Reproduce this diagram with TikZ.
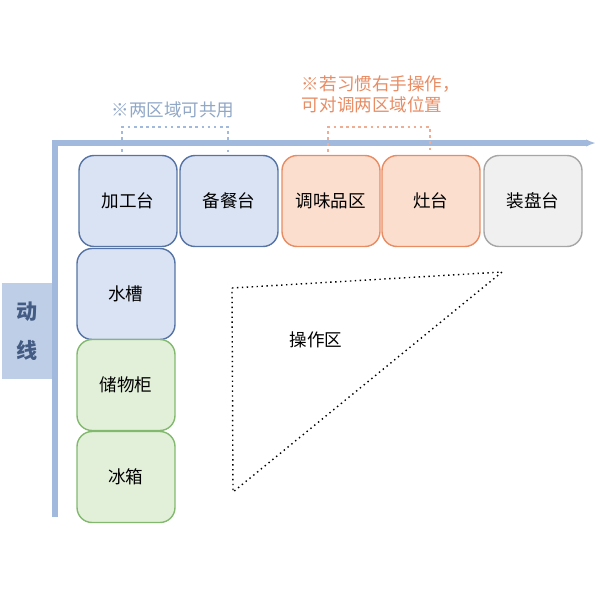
\documentclass[tikz,border=0pt]{standalone}
\usepackage{fontspec}
\newfontfamily\cjk{Noto Sans CJK SC}
\usetikzlibrary{positioning,arrows.meta}
\definecolor{bluefill}{RGB}{218,227,243}
\definecolor{blueline}{RGB}{85,115,165}
\definecolor{orangefill}{RGB}{251,222,206}
\definecolor{orangeline}{RGB}{232,140,100}
\definecolor{greenfill}{RGB}{226,240,217}
\definecolor{greenline}{RGB}{130,185,110}
\definecolor{grayfill}{RGB}{240,240,240}
\definecolor{flow}{RGB}{160,185,220}
\tikzset{
  bl/.style={rectangle, rounded corners=3mm, minimum width=1.96cm, minimum height=1.82cm, text centered, draw=blueline, fill=bluefill, thick, font=\cjk\normalsize},
  og/.style={bl, draw=orangeline, fill=orangefill},
  gn/.style={bl, draw=greenline, fill=greenfill},
  gy/.style={bl, draw=gray!70, fill=grayfill},
  note/.style={font=\cjk\normalsize}
}
\begin{document}
\begin{tikzpicture}[x=0.02cm,y=-0.02cm]
	\useasboundingbox (0,0) rectangle (600,600);
	% flow lines
	\draw[flow, line width=3pt, -{Latex[length=2mm]}] (55,517) -- (55,143) -- (596,143);
	\node[fill=flow!70, minimum width=1cm, minimum height=1.94cm, font=\cjk\large\bfseries, text=blueline!80!black, align=center] (flowlabel) at (27,331) {动\\[3mm]线};
	% top row
	\node[bl] (prep) at (128,201) {加工台};
	\node[bl] (serve) at (229,201) {备餐台};
	\node[og] (spice) at (331,201) {调味品区};
	\node[og] (stove) at (431,201) {灶台};
	\node[gy] (plate) at (533,201) {装盘台};
	% left column
	\node[bl] (sink) at (126,294) {水槽};
	\node[gn] (store) at (126,385) {储物柜};
	\node[gn] (fridge) at (126,477) {冰箱};
	% notes
	\node[note, text=flow!90!black] (sharenote) at (173,110) {※两区域可共用};
	\node[note, text=orangeline, align=left] (swapnote) at (381,94) {※若习惯右手操作，\\可对调两区域位置};
	\draw[flow, dotted, line width=1.5pt] (122,152) -- (122,127) -- (228,127) -- (228,152);
	\draw[orangeline!70, dotted, line width=1.5pt] (328,152) -- (328,127) -- (430,127) -- (430,152);
	% work area
	\coordinate (ta) at (232,288);
	\coordinate (tb) at (502,272);
	\coordinate (tc) at (233,492);
	\draw[dotted, thick] (ta) -- (tb) -- (tc) -- cycle;
	\node[font=\cjk\normalsize] (work) at (316,340) {操作区};
\end{tikzpicture}
\end{document}
